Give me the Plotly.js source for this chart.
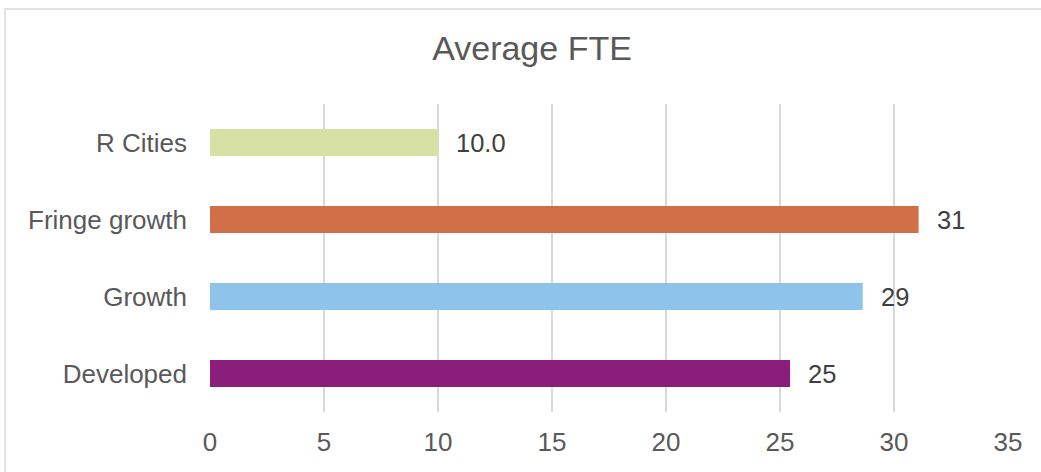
<!DOCTYPE html>
<html>
<head>
<meta charset="utf-8">
<script src="https://cdn.plot.ly/plotly-3.0.1.min.js"></script>
<style>
html,body{margin:0;padding:0;background:#fff;}
#chart{width:1041px;height:472px;}
</style>
</head>
<body>
<div id="chart"></div>
<script>
const categories = ["R Cities", "Fringe growth", "Growth", "Developed"];
const values = [10.0, 31.08, 28.63, 25.44];
const valueLabels = ["10.0", "31", "29", "25"];
const barColors = ["#d7e1a4", "#d06f48", "#8fc4ea", "#8a1e7a"];
const xTicks = [0, 5, 10, 15, 20, 25, 30, 35];

const font = "Liberation Sans, Arial, sans-serif";

const trace = {
  type: "bar",
  orientation: "h",
  y: categories,
  x: values,
  width: 0.35,
  marker: {color: barColors},
  hoverinfo: "none"
};

const annotations = categories.map((c, i) => ({
  x: values[i], y: c, xref: "x", yref: "y",
  text: valueLabels[i], showarrow: false,
  xanchor: "left", yanchor: "middle", xshift: 16,
  font: {family: font, size: 25.5, color: "#404040"}
}));

const layout = {
  width: 1041, height: 472,
  margin: {l: 210, r: 33, t: 104, b: 60},
  paper_bgcolor: "#ffffff",
  plot_bgcolor: "#ffffff",
  showlegend: false,
  title: {
    text: "Average FTE",
    font: {family: font, size: 34, color: "#595959"},
    x: 532 / 1041, xref: "container", xanchor: "center",
    y: 1 - 48/472, yref: "container", yanchor: "middle"
  },
  xaxis: {
    range: [0, 35],
    tickvals: xTicks,
    ticktext: xTicks.map(String),
    showgrid: true, gridcolor: "#d9d9d9", gridwidth: 1.5,
    zeroline: false, showline: false, ticks: "",
    ticklabelstandoff: 12,
    tickfont: {family: font, size: 26, color: "#595959"},
    fixedrange: true
  },
  yaxis: {
    type: "category",
    autorange: "reversed",
    showgrid: false, zeroline: false, showline: false, ticks: "",
    ticklabelstandoff: 22,
    tickfont: {family: font, size: 26, color: "#595959"},
    fixedrange: true
  },
  annotations: annotations,
  shapes: [{
    type: "rect", xref: "paper", yref: "paper",
    x0: (5 - 210) / 798, x1: (1060 - 210) / 798,
    y0: (412 - 490) / 308, y1: (412 - 9) / 308,
    line: {color: "#d9d9d9", width: 1.5},
    fillcolor: "rgba(0,0,0,0)", layer: "below"
  }]
};

Plotly.newPlot("chart", [trace], layout, {staticPlot: true, displayModeBar: false});
</script>
</body>
</html>
